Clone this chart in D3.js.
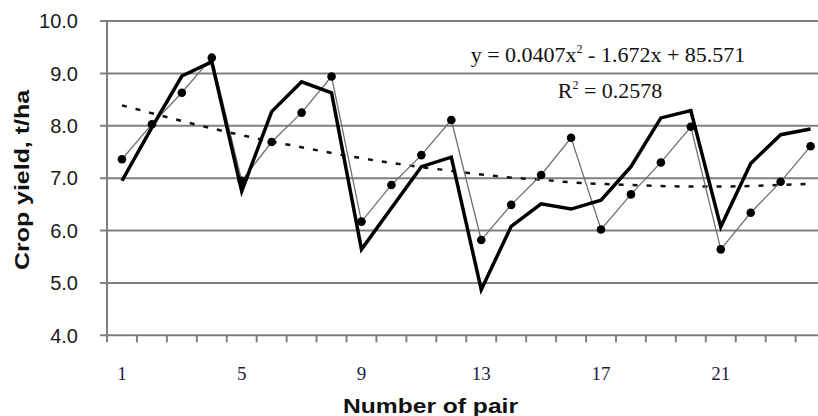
<!DOCTYPE html>
<html>
<head>
<meta charset="utf-8">
<script src="https://cdn.jsdelivr.net/npm/d3@7"></script>
<style>
  body { margin: 0; background: #fff; }
  svg { display: block; }
</style>
</head>
<body>
<div id="chart"></div>
<script>
const width = 818;
const height = 416;

// Data
const pairs = d3.range(1, 25);
const yieldThin = [7.36, 8.03, 8.63, 9.30, 6.95, 7.69, 8.25, 8.94, 6.17, 6.87, 7.44, 8.11,
                   5.82, 6.49, 7.06, 7.77, 6.02, 6.69, 7.30, 7.98, 5.64, 6.34, 6.93, 7.61];
const yieldThick = [6.95, 7.97, 8.95, 9.22, 6.75, 8.27, 8.84, 8.63, 5.64, 6.43, 7.22, 7.40,
                    4.87, 6.08, 6.51, 6.41, 6.58, 7.22, 8.15, 8.29, 6.07, 7.28, 7.83, 7.94];
const trendValues = [8.39, 8.24, 8.09, 7.95, 7.82, 7.70, 7.59, 7.48, 7.38, 7.29, 7.21, 7.14,
                     7.07, 7.01, 6.97, 6.92, 6.89, 6.87, 6.85, 6.84, 6.84, 6.85, 6.87, 6.89];
const yTicks = [4, 5, 6, 7, 8, 9, 10];
const xTickLabels = [1, 5, 9, 13, 17, 21];

const x = d3.scaleBand()
  .domain(pairs)
  .range([107, 107 + 24 * 29.94])
  .padding(0);

const y = d3.scaleLinear()
  .domain([4, 10])
  .range([335.3, 21]);

const cx = d => x(d) + x.bandwidth() / 2;

const svg = d3.select("#chart").append("svg")
  .attr("width", width)
  .attr("height", height);

// Horizontal gridlines (the 4.0 one is the x axis)
svg.append("g")
  .selectAll("line")
  .data(yTicks)
  .enter().append("line")
  .attr("x1", 100)
  .attr("x2", width)
  .attr("y1", d => y(d))
  .attr("y2", d => y(d))
  .attr("stroke", "#7f7f7f")
  .attr("stroke-width", 2);

// Y axis line
svg.append("line")
  .attr("x1", 107).attr("x2", 107)
  .attr("y1", y(10)).attr("y2", y(4))
  .attr("stroke", "#7f7f7f")
  .attr("stroke-width", 2);

// X ticks at band edges
svg.append("g")
  .selectAll("line")
  .data(pairs.concat([25]))
  .enter().append("line")
  .attr("x1", d => d <= 24 ? x(d) : x(24) + x.bandwidth())
  .attr("x2", d => d <= 24 ? x(d) : x(24) + x.bandwidth())
  .attr("y1", y(4))
  .attr("y2", y(4) + 7)
  .attr("stroke", "#7f7f7f")
  .attr("stroke-width", 2);

// Y tick labels
svg.append("g")
  .selectAll("text")
  .data(yTicks)
  .enter().append("text")
  .attr("x", 78)
  .attr("y", d => y(d))
  .attr("dy", "0.36em")
  .attr("text-anchor", "end")
  .style("font-family", "Arial, 'Liberation Sans', sans-serif")
  .style("font-size", "20px")
  .attr("fill", "#1a1a1a")
  .text(d => d.toFixed(1));

// X tick labels
svg.append("g")
  .selectAll("text")
  .data(xTickLabels)
  .enter().append("text")
  .attr("x", d => cx(d))
  .attr("y", 380)
  .attr("text-anchor", "middle")
  .style("font-family", "'Times New Roman', 'Liberation Serif', serif")
  .style("font-size", "19px")
  .attr("fill", "#1c1c44")
  .text(d => d);

// Axis titles
svg.append("text")
  .attr("transform", "translate(29,180) rotate(-90)")
  .attr("text-anchor", "middle")
  .attr("textLength", 180)
  .attr("lengthAdjust", "spacingAndGlyphs")
  .style("font-family", "Arial, 'Liberation Sans', sans-serif")
  .style("font-size", "21px")
  .style("font-weight", "bold")
  .attr("fill", "#111")
  .text("Crop yield, t/ha");

svg.append("text")
  .attr("x", 430.5)
  .attr("y", 412.5)
  .attr("text-anchor", "middle")
  .attr("textLength", 175)
  .attr("lengthAdjust", "spacingAndGlyphs")
  .style("font-family", "Arial, 'Liberation Sans', sans-serif")
  .style("font-size", "21px")
  .style("font-weight", "bold")
  .attr("fill", "#111")
  .text("Number of pair");

// Trend line (dotted)
const trendLine = d3.line()
  .x((d, i) => cx(pairs[i]))
  .y(d => y(d))
  .curve(d3.curveMonotoneX);

svg.append("path")
  .attr("d", trendLine(trendValues))
  .attr("fill", "none")
  .attr("stroke", "#111")
  .attr("stroke-width", 2.5)
  .attr("stroke-dasharray", "5,9");

// Thin series with markers
const seriesLine = d3.line()
  .x((d, i) => cx(pairs[i]))
  .y(d => y(d));

svg.append("path")
  .attr("d", seriesLine(yieldThin))
  .attr("fill", "none")
  .attr("stroke", "#707070")
  .attr("stroke-width", 1.3);

svg.append("g")
  .selectAll("circle")
  .data(yieldThin)
  .enter().append("circle")
  .attr("cx", (d, i) => cx(pairs[i]))
  .attr("cy", d => y(d))
  .attr("r", 4.3)
  .attr("fill", "#000");

// Thick series
svg.append("path")
  .attr("d", seriesLine(yieldThick))
  .attr("fill", "none")
  .attr("stroke", "#000")
  .attr("stroke-width", 3.5)
  .attr("stroke-linejoin", "miter");

// Regression equation
const eq = svg.append("text")
  .attr("x", 608)
  .attr("y", 62)
  .attr("text-anchor", "middle")
  .style("font-family", "'Times New Roman', 'Liberation Serif', serif")
  .style("font-size", "22px")
  .attr("fill", "#111");
eq.append("tspan").text("y = 0.0407x");
eq.append("tspan").attr("dy", -9).style("font-size", "12px").text("2");
eq.append("tspan").attr("dy", 9).text(" - 1.672x + 85.571");

const r2 = svg.append("text")
  .attr("x", 610)
  .attr("y", 98)
  .attr("text-anchor", "middle")
  .style("font-family", "'Times New Roman', 'Liberation Serif', serif")
  .style("font-size", "22px")
  .attr("fill", "#111");
r2.append("tspan").text("R");
r2.append("tspan").attr("dy", -9).style("font-size", "12px").text("2");
r2.append("tspan").attr("dy", 9).text(" = 0.2578");
</script>
</body>
</html>
